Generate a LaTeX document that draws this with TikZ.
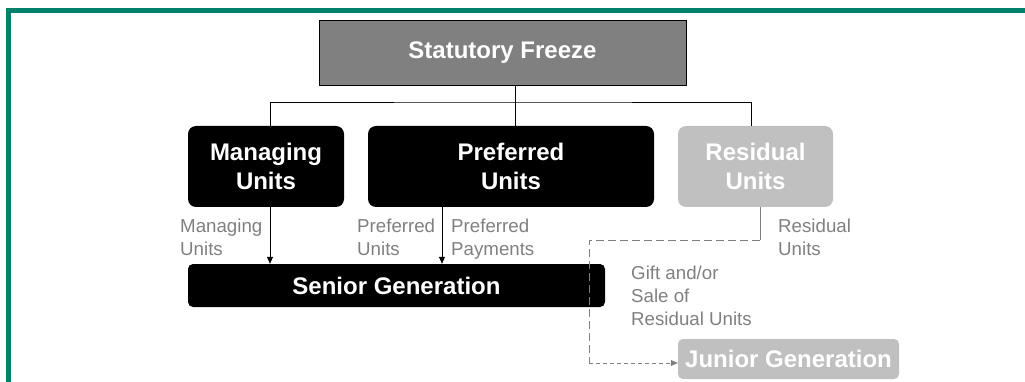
\documentclass[tikz,border=0pt]{standalone}
\usepackage{fontspec}
\setmainfont{Liberation Sans}
\usetikzlibrary{arrows.meta}

\definecolor{framegreen}{RGB}{0,130,106}
\definecolor{freezegray}{RGB}{128,128,128}
\definecolor{residgray}{RGB}{192,192,192}
\definecolor{labelgray}{RGB}{128,128,128}

\tikzset{
	unitbox/.style={rounded corners=8pt, fill=black, text=white, align=center, inner sep=0pt, minimum height=81pt, font=\bfseries\fontsize{24}{29}\selectfont},
	genbox/.style={rounded corners=5pt, fill=black, text=white, inner sep=0pt, font=\bfseries\fontsize{24}{29}\selectfont},
	flowlabel/.style={anchor=north west, inner sep=0pt, align=left, text=labelgray, font=\fontsize{18.7}{23}\selectfont},
	flow/.style={-{Triangle[length=7pt,width=6pt]}, line width=0.8pt},
}

\begin{document}
\begin{tikzpicture}[x=1pt, y=-1pt]
		\useasboundingbox (0,0) rectangle (1025,382);
		\clip (0,0) rectangle (1025,382);
		% Green frame, open to the right and bottom
		\draw[framegreen, line width=5pt] (8.5,400) |- (1040,10.5);

		% Boxes
		\node[draw=black, line width=0.8pt, fill=freezegray, text=white, minimum width=367pt, minimum height=65pt, inner sep=0pt, font=\bfseries\fontsize{24}{29}\selectfont] (freeze) at (502.5,52.5) {Statutory Freeze};
		\node[unitbox, minimum width=156pt] (managing) at (266,166.5) {Managing\\Units};
		\node[unitbox, minimum width=286pt] (preferred) at (511,166.5) {Preferred\\Units};
		\node[unitbox, minimum width=155pt, fill=residgray] (residual) at (755.5,166.5) {Residual\\Units};
		\node[genbox, minimum width=417pt, minimum height=43pt] (senior) at (396.5,285.5) {Senior Generation};
		\node[genbox, minimum width=221pt, minimum height=40pt, fill=residgray] (junior) at (788.5,359) {Junior Generation};

		% Tree under the freeze
		\coordinate (split) at (515,102);
		\draw[line width=0.8pt] (freeze.south -| split) -- (split);
		\draw[line width=0.8pt] ([xshift=4pt]managing.north) |- (split) -| ([xshift=-4.5pt]residual.north);
		\draw[line width=0.8pt] (split) -- (split |- preferred.north);

		% Flows to the senior generation
		\coordinate (mandrop) at (270,0);
		\coordinate (prefdrop) at (442,0);
		\draw[flow] (managing.south -| mandrop) -- (senior.north -| mandrop);
		\draw[flow] (preferred.south -| prefdrop) -- (senior.north -| prefdrop);

		% Residual units passed down to the junior generation
		\coordinate (turn) at (589,240);
		\coordinate (residdrop) at (760,0);
		\draw[labelgray, line width=0.8pt] (residual.south -| residdrop) -- (turn -| residdrop);
		\draw[labelgray, line width=0.8pt, dash pattern=on 8pt off 4pt] (turn -| residdrop) -- (turn) -- (turn |- 0,363);
		\draw[labelgray, line width=0.8pt, dash pattern=on 4pt off 3pt, -{Triangle[length=7pt,width=6pt]}] (turn |- 0,363) -- ([yshift=-4pt]junior.west);

		% Labels on the flows
		\node[flowlabel] (manlab) at (180,219) {Managing\\Units};
		\node[flowlabel] (preflab) at (357,219) {Preferred\\Units};
		\node[flowlabel] (paylab) at (451,219) {Preferred\\Payments};
		\node[flowlabel] (residlab) at (778,219) {Residual\\Units};
		\node[flowlabel] (giftlab) at (631,266) {Gift and/or\\Sale of\\Residual Units};
	\end{tikzpicture}
\end{document}
